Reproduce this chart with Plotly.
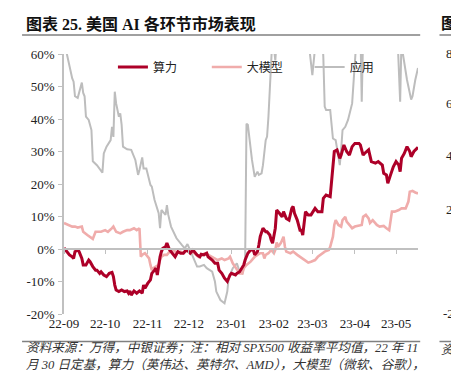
import plotly.graph_objects as go

# ---------------- data ----------------
series_names = ["算力", "大模型", "应用"]

suanli = [("2022-09-01",0.3),("2022-09-03",-0.8),("2022-09-05",-1.8),("2022-09-07",-2.4),("2022-09-08",-2.9),("2022-09-09",-0.8),("2022-09-11",-0.3),("2022-09-12",-0.8),("2022-09-14",-2.9),("2022-09-15",-4.9),("2022-09-17",-4.9),("2022-09-19",-3.4),("2022-09-20",-3.9),("2022-09-22",-5.4),("2022-09-24",-6.5),("2022-09-25",-6.5),("2022-09-27",-7.5),("2022-09-28",-7),("2022-09-30",-8),("2022-10-02",-8.5),("2022-10-04",-7.5),("2022-10-06",-7.2),("2022-10-07",-8.5),("2022-10-08",-11.1),("2022-10-09",-12.6),("2022-10-11",-13.1),("2022-10-13",-12.6),("2022-10-15",-13.1),("2022-10-17",-12.9),("2022-10-18",-13.6),("2022-10-19",-12.9),("2022-10-20",-14.2),("2022-10-22",-12.9),("2022-10-24",-13.6),("2022-10-26",-12.9),("2022-10-28",-13.6),("2022-10-29",-11.1),("2022-10-30",-12.1),("2022-10-31",-11.1),("2022-11-01",-10.6),("2022-11-03",-9.5),("2022-11-04",-7.5),("2022-11-06",-6.5),("2022-11-07",-5.9),("2022-11-08",-8),("2022-11-09",-4.9),("2022-11-10",-2.4),("2022-11-11",-0.8),("2022-11-12",0.2),("2022-11-14",0.7),("2022-11-15",1.8),("2022-11-17",-0.3),("2022-11-19",-1.3),("2022-11-21",-2.4),("2022-11-23",-0.8),("2022-11-25",-1.3),("2022-11-27",-1.3),("2022-11-29",-0.3),("2022-12-01",-0.8),("2022-12-02",-1.3),("2022-12-04",-0.3),("2022-12-06",-1.3),("2022-12-07",-1.8),("2022-12-09",-2.4),("2022-12-10",-1.6),("2022-12-12",-1.8),("2022-12-14",-1.3),("2022-12-15",-2.4),("2022-12-18",-3.4),("2022-12-20",-4.4),("2022-12-22",-4.4),("2022-12-23",-6.5),("2022-12-25",-7.5),("2022-12-27",-9),("2022-12-29",-10),("2022-12-31",-8),("2023-01-01",-7.5),("2023-01-04",-8),("2023-01-05",-7.5),("2023-01-07",-7),("2023-01-10",-4.9),("2023-01-11",-3.4),("2023-01-12",-2.4),("2023-01-13",-1.3),("2023-01-15",-0.3),("2023-01-17",-0.3),("2023-01-18",-1.8),("2023-01-20",-0.8),("2023-01-21",1.2),("2023-01-22",3.8),("2023-01-24",6.4),("2023-01-26",5.3),("2023-01-27",5.3),("2023-01-29",4.3),("2023-01-30",2.8),("2023-01-31",1.8),("2023-02-02",6.4),("2023-02-03",12),("2023-02-05",11),("2023-02-07",9.9),("2023-02-08",11.5),("2023-02-09",10.5),("2023-02-10",9.4),("2023-02-12",8.9),("2023-02-13",10.5),("2023-02-14",12.5),("2023-02-15",13.1),("2023-02-16",11),("2023-02-18",8.9),("2023-02-19",6.9),("2023-02-20",5.8),("2023-02-21",5.8),("2023-02-22",4.3),("2023-02-24",11.5),("2023-02-26",10.5),("2023-02-28",10.5),("2023-03-03",12.5),("2023-03-05",11.5),("2023-03-08",11.5),("2023-03-09",15.6),("2023-03-11",16.6),("2023-03-14",16.1),("2023-03-15",21.2),("2023-03-16",25.3),("2023-03-17",30),("2023-03-19",30.5),("2023-03-21",27.9),("2023-03-22",28.9),("2023-03-24",32),("2023-03-26",30),("2023-03-28",28.9),("2023-03-30",31.5),("2023-04-01",32.5),("2023-04-04",32.5),("2023-04-05",32),("2023-04-07",28.9),("2023-04-08",29.4),("2023-04-11",30.5),("2023-04-13",26.9),("2023-04-16",26.4),("2023-04-18",26.9),("2023-04-21",25.8),("2023-04-22",23.3),("2023-04-24",22.8),("2023-04-25",20.2),("2023-04-27",22.8),("2023-04-29",25.3),("2023-05-01",26.9),("2023-05-03",25.8),("2023-05-04",23.8),("2023-05-05",27.9),("2023-05-07",29.4),("2023-05-09",31.5),("2023-05-11",30),("2023-05-12",28.4),("2023-05-14",30),("2023-05-16",31),("2023-05-17",31.3)]

damoxing = [("2022-09-01",8),("2022-09-04",7.4),("2022-09-07",6.9),("2022-09-09",6.9),("2022-09-11",6.6),("2022-09-14",6.9),("2022-09-15",5.3),("2022-09-18",4.3),("2022-09-20",3.8),("2022-09-22",3.1),("2022-09-24",5.3),("2022-09-26",5.3),("2022-09-28",5.3),("2022-10-01",5.8),("2022-10-03",5.3),("2022-10-06",6.4),("2022-10-07",6.9),("2022-10-09",5.3),("2022-10-12",4.8),("2022-10-14",5.3),("2022-10-17",5.8),("2022-10-19",5.8),("2022-10-22",6.4),("2022-10-24",5.8),("2022-10-26",6.4),("2022-10-27",-2.4),("2022-10-28",-1.8),("2022-10-30",-1.3),("2022-11-01",-2.4),("2022-11-02",-2.9),("2022-11-03",-4.9),("2022-11-04",-6.5),("2022-11-05",-5.9),("2022-11-07",-5.4),("2022-11-09",-4.9),("2022-11-10",-3.4),("2022-11-11",-2.4),("2022-11-13",-1.8),("2022-11-15",-1.8),("2022-11-17",-0.8),("2022-11-20",-0.3),("2022-11-22",-1.3),("2022-11-25",-0.8),("2022-11-27",-1.3),("2022-11-30",-0.3),("2022-12-02",-0.8),("2022-12-05",-1.3),("2022-12-08",-2.4),("2022-12-10",-1.8),("2022-12-13",-1.3),("2022-12-15",-1.8),("2022-12-18",-2.4),("2022-12-20",-2.9),("2022-12-22",-3.4),("2022-12-25",-2.9),("2022-12-27",-3.4),("2022-12-30",-2.9),("2022-12-31",-2.4),("2023-01-02",-4.4),("2023-01-05",-6.5),("2023-01-07",-7.5),("2023-01-09",-7.5),("2023-01-10",-5.9),("2023-01-12",-4.9),("2023-01-15",-3.9),("2023-01-17",-2.9),("2023-01-18",-2.4),("2023-01-20",-1.8),("2023-01-22",-1.3),("2023-01-24",-1.3),("2023-01-25",-2.9),("2023-01-26",-1.8),("2023-01-28",-1.3),("2023-01-30",-0.3),("2023-02-01",-1.3),("2023-02-02",-0.3),("2023-02-03",2),("2023-02-04",0.7),("2023-02-06",1.8),("2023-02-07",2.8),("2023-02-08",3.8),("2023-02-09",0.7),("2023-02-10",-0.8),("2023-02-13",-1.3),("2023-02-15",-0.8),("2023-02-18",-1.8),("2023-02-20",-2.4),("2023-02-24",-3.4),("2023-02-26",-4.2),("2023-02-28",-3.9),("2023-03-03",-3.4),("2023-03-05",-2.4),("2023-03-08",-1.3),("2023-03-10",-0.8),("2023-03-13",-0.3),("2023-03-14",0.7),("2023-03-16",3.8),("2023-03-17",7.4),("2023-03-18",8.9),("2023-03-20",7.4),("2023-03-22",6.9),("2023-03-23",8.9),("2023-03-25",9.9),("2023-03-26",8.4),("2023-03-28",7.4),("2023-03-30",6.4),("2023-04-01",6.9),("2023-04-03",7.1),("2023-04-06",7.4),("2023-04-07",9.9),("2023-04-09",10.5),("2023-04-11",9.4),("2023-04-12",8.0),("2023-04-14",8.9),("2023-04-17",7.4),("2023-04-19",6.9),("2023-04-22",7.1),("2023-04-24",6.4),("2023-04-26",5.8),("2023-04-28",11.5),("2023-04-30",11.5),("2023-05-03",12),("2023-05-05",12.5),("2023-05-08",12.5),("2023-05-10",14.6),("2023-05-11",17.6),("2023-05-13",17.9),("2023-05-15",17.4),("2023-05-17",17.1)]

yingyong = [("2022-09-01",64),("2022-09-03",60),("2022-09-07",52.5),("2022-09-08",51.5),("2022-09-09",47),("2022-09-11",46.5),("2022-09-14",51.2),("2022-09-15",48),("2022-09-16",47),("2022-09-17",40.7),("2022-09-19",39.7),("2022-09-21",36.6),("2022-09-22",27),("2022-09-25",25.8),("2022-09-27",24.8),("2022-09-29",23.5),("2022-09-30",29.4),("2022-10-02",31.5),("2022-10-05",33.5),("2022-10-06",37.6),("2022-10-07",34.5),("2022-10-08",48.4),("2022-10-09",44.8),("2022-10-11",40.7),("2022-10-12",41.7),("2022-10-13",38.2),("2022-10-14",31.5),("2022-10-17",30.7),("2022-10-20",30.5),("2022-10-23",27.4),("2022-10-25",22.8),("2022-10-26",24.3),("2022-10-28",28.2),("2022-10-29",24.8),("2022-10-31",24.8),("2022-11-01",22.8),("2022-11-03",19.7),("2022-11-04",19.2),("2022-11-06",15.1),("2022-11-09",11),("2022-11-10",6.4),("2022-11-11",12),("2022-11-14",10.5),("2022-11-15",13.5),("2022-11-16",10.5),("2022-11-18",6.9),("2022-11-22",3.3),("2022-11-26",1.2),("2022-11-28",0.2),("2022-11-30",1.5),("2022-12-02",-0.3),("2022-12-04",-2.4),("2022-12-07",-5.4),("2022-12-09",-5.4),("2022-12-12",-4.9),("2022-12-14",-5.9),("2022-12-18",-7),("2022-12-20",-10),("2022-12-21",-13.1),("2022-12-24",-15.7),("2022-12-27",-16.7),("2022-12-29",-13.1),("2022-12-30",-9),("2023-01-02",-5.9),("2023-01-05",-4.4),("2023-01-07",-7),("2023-01-09",-7.5),("2023-01-10",-5.4),("2023-01-11",-3.9),("2023-01-12",38.5),("2023-01-13",38.2),("2023-01-16",27.4),("2023-01-18",22.2),("2023-01-20",23.8),("2023-01-21",22.8),("2023-01-23",23.3),("2023-01-24",25.8),("2023-01-26",33.5),("2023-01-27",34.6),("2023-01-28",40.7),("2023-01-29",51),("2023-01-30",59.7),("2023-01-31",66),("2023-02-02",58),("2023-02-04",70),("2023-02-08",75),("2023-02-13",72),("2023-02-18",78),("2023-02-23",70),("2023-02-27",61),("2023-03-01",53.5),("2023-03-03",62),("2023-03-05",70),("2023-03-08",68),("2023-03-09",59),("2023-03-10",43.8),("2023-03-11",42.8),("2023-03-14",42.8),("2023-03-15",37.6),("2023-03-16",34),("2023-03-18",33.5),("2023-03-19",30.5),("2023-03-20",28.4),("2023-03-21",25.8),("2023-03-22",30.5),("2023-03-23",36.6),("2023-03-25",37.6),("2023-03-27",39.7),("2023-03-30",44.8),("2023-03-31",51),("2023-04-01",59.2),("2023-04-03",70),("2023-04-05",68),("2023-04-06",45.3),("2023-04-07",66),("2023-04-11",75),("2023-04-17",72),("2023-04-23",78),("2023-04-29",74),("2023-05-02",66),("2023-05-04",45.3),("2023-05-05",65),("2023-05-06",60),("2023-05-09",52),("2023-05-12",46),("2023-05-13",47),("2023-05-15",52),("2023-05-17",55.7)]

suanli_dates = [d for d, v in suanli]
suanli_values = [v for d, v in suanli]
damoxing_dates = [d for d, v in damoxing]
damoxing_values = [v for d, v in damoxing]
yingyong_dates = [d for d, v in yingyong]
yingyong_values = [v for d, v in yingyong]

x_tick_dates = ["2022-09-01", "2022-10-01", "2022-11-01", "2022-12-01", "2023-01-01",
                "2023-02-01", "2023-03-01", "2023-04-01", "2023-05-01"]
x_tick_labels = ["22-09", "22-10", "22-11", "22-12", "23-01", "23-02", "23-03", "23-04", "23-05"]
y_tick_values = [-20, -10, 0, 10, 20, 30, 40, 50, 60]
y_tick_labels = ["-20%", "-10%", "0%", "10%", "20%", "30%", "40%", "50%", "60%"]
x_range = ["2022-09-01", "2023-05-17"]

title_text = "<b>图表 25. 美国 AI 各环节市场表现</b>"
note_line1 = "资料来源：万得，中银证券；注：相对 SPX500 收益率平均值，22 年 11"
note_line2 = "月 30 日定基，算力（英伟达、英特尔、AMD），大模型（微软、谷歌），"
neighbor_ticks = ["8", "6", "4", "2", "-2"]

# ---------------- layout geometry ----------------
W, H = 451, 379
L, R, T, B = 64, 32.5, 54, 65
PW = W - L - R
PH = H - T - B


def px_x(px):
    return (px - L) / PW


def px_y(py):
    return (H - B - py) / PH


RED = "#ad0028"
PINK = "#f0acab"
GRAY = "#bdbdbd"
AXIS = "#c0c0c0"
SERIF = "Liberation Serif, Noto Sans CJK SC"
CJK = "Noto Sans CJK SC"

fig = go.Figure()
fig.add_trace(go.Scatter(x=yingyong_dates, y=yingyong_values, name=series_names[2], mode="lines",
                         line=dict(color=GRAY, width=2), legend="legend3", hoverinfo="skip"))
fig.add_trace(go.Scatter(x=damoxing_dates, y=damoxing_values, name=series_names[1], mode="lines",
                         line=dict(color=PINK, width=2.6), legend="legend2", hoverinfo="skip"))
fig.add_trace(go.Scatter(x=suanli_dates, y=suanli_values, name=series_names[0], mode="lines",
                         line=dict(color=RED, width=3), legend="legend", hoverinfo="skip"))
# helper trace so the zero-line axis (x2) is drawn
fig.add_trace(go.Scatter(x=suanli_dates[:1], y=[None], xaxis="x2", showlegend=False,
                         hoverinfo="skip", mode="lines"))

legend_common = dict(orientation="h", yanchor="middle", xanchor="left", bgcolor="rgba(0,0,0,0)",
                     font=dict(family=CJK, size=12, color="#222"), borderwidth=0, itemwidth=30)

fig.update_layout(
    width=W, height=H,
    margin=dict(l=L, r=R, t=T, b=B, pad=0),
    paper_bgcolor="white", plot_bgcolor="white",
    font=dict(family=SERIF, size=13, color="#222"),
    legend=dict(x=px_x(113), y=px_y(67), **legend_common),
    legend2=dict(x=px_x(207), y=px_y(67), **legend_common),
    legend3=dict(x=px_x(310), y=px_y(67), **legend_common),
    xaxis=dict(type="date", range=x_range, tickvals=x_tick_dates, ticktext=x_tick_labels,
               showline=False, ticks="", showgrid=False, zeroline=False,
               tickfont=dict(family=SERIF, size=13, color="#222")),
    xaxis2=dict(type="date", overlaying="x", matches="x", anchor="free", position=px_y(249),
                showline=True, linecolor=AXIS, linewidth=1.5, ticks="outside", ticklen=4,
                tickwidth=1, tickcolor=AXIS, tickvals=x_tick_dates, showticklabels=False,
                showgrid=False, zeroline=False),
    yaxis=dict(range=[-20, 60], tickvals=y_tick_values, ticktext=y_tick_labels,
               showline=True, linecolor=AXIS, linewidth=1.5, ticks="outside", ticklen=4,
               tickwidth=1, tickcolor=AXIS, showgrid=False, zeroline=False,
               ticklabelstandoff=1, tickfont=dict(family=SERIF, size=13, color="#222")),
)

shapes = [
    dict(type="line", xref="paper", yref="paper", x0=px_x(22), x1=px_x(420.7), y0=px_y(35), y1=px_y(35),
         line=dict(color="#808080", width=1.5)),
    dict(type="line", xref="paper", yref="paper", x0=px_x(22), x1=px_x(420.7), y0=px_y(341.5), y1=px_y(341.5),
         line=dict(color="#808080", width=1.5)),
    dict(type="line", xref="paper", yref="paper", x0=px_x(440), x1=px_x(460), y0=px_y(35), y1=px_y(35),
         line=dict(color="#808080", width=1.5)),
    dict(type="line", xref="paper", yref="paper", x0=px_x(440), x1=px_x(460), y0=px_y(341.5), y1=px_y(341.5),
         line=dict(color="#808080", width=1.5)),
]
fig.update_layout(shapes=shapes)

ann = []
ann.append(dict(text=title_text, x=px_x(24), y=px_y(24), xref="paper", yref="paper", xanchor="left",
                yanchor="middle", showarrow=False, font=dict(family=SERIF, size=16, color="#111")))
ann.append(dict(text="<b>图</b>", x=px_x(440), y=px_y(24), xref="paper", yref="paper", xanchor="left",
                yanchor="middle", showarrow=False, font=dict(family=SERIF, size=16, color="#111")))
ann.append(dict(text=note_line1, x=px_x(24), y=px_y(347.5), xref="paper", yref="paper", xanchor="left",
                yanchor="middle", showarrow=False,
                font=dict(family=SERIF, size=12.6, color="#333", style="italic")))
ann.append(dict(text=note_line2, x=px_x(24), y=px_y(365), xref="paper", yref="paper", xanchor="left",
                yanchor="middle", showarrow=False,
                font=dict(family=SERIF, size=12.6, color="#333", style="italic")))
ann.append(dict(text="资", x=px_x(440), y=px_y(350), xref="paper", yref="paper", xanchor="left",
                yanchor="middle", showarrow=False,
                font=dict(family=SERIF, size=12.6, color="#333", style="italic")))
for lbl, py, pxl in zip(neighbor_ticks, [53, 103, 155, 209, 313], [445, 445, 445, 445, 442]):
    ann.append(dict(text=lbl, x=px_x(pxl), y=px_y(py), xref="paper", yref="paper", xanchor="left",
                    yanchor="middle", showarrow=False, font=dict(family=SERIF, size=13, color="#222")))
fig.update_layout(annotations=ann)

fig.write_html("out.html", config={"displayModeBar": False},
               post_script="document.body.style.margin='0';document.body.style.padding='0';")
